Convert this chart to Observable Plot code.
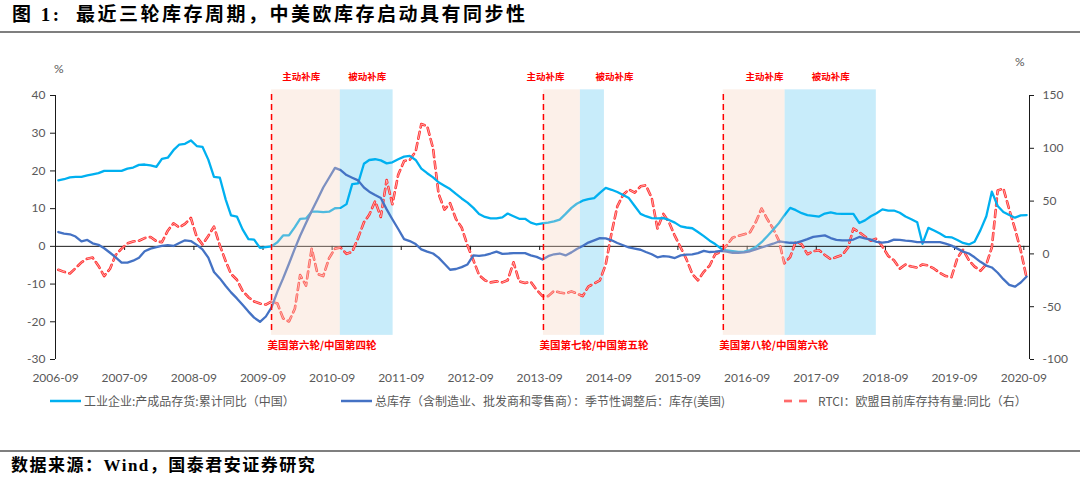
<!DOCTYPE html>
<html>
<head>
<meta charset="utf-8">
<script src="https://cdn.jsdelivr.net/npm/d3@7"></script>
<script src="https://cdn.jsdelivr.net/npm/@observablehq/plot@0.6"></script>
<style>
  body { margin: 0; background: #fff; }
  #wrap { position: relative; width: 1080px; height: 488px; overflow: hidden; background: #fff; font-family: "Noto Sans CJK SC", sans-serif; }
  .title { position: absolute; left: 12px; top: 3px; font-family: "Liberation Serif", "Noto Sans CJK SC", serif; font-weight: bold; font-size: 19px; line-height: 24px; letter-spacing: 2.5px; color: #000; white-space: nowrap; }
  .hr { position: absolute; left: 0; width: 1080px; background: #7f7f7f; }
  .source { position: absolute; left: 11px; top: 455px; font-family: "Liberation Serif", "Noto Sans CJK SC", serif; font-weight: bold; font-size: 17px; line-height: 22px; letter-spacing: 1.5px; color: #000; white-space: nowrap; }
  #chart { position: absolute; left: 0; top: 40px; }
  .pct { position: absolute; font-family: Lato, sans-serif; font-size: 12px; color: #595959; }
  .leg { position: absolute; top: 392px; height: 18px; line-height: 18px; font-size: 12px; color: #595959; white-space: nowrap; }
  .sw { position: absolute; top: 392px; }
</style>
</head>
<body>
<div id="wrap">
  <div class="title">图 1:&nbsp; 最近三轮库存周期，中美欧库存启动具有同步性</div>
  <div class="hr" style="top:31px;height:2px;"></div>
  <div id="chart"></div>
  <div class="pct" style="left:54px;top:61px;">%</div>
  <div class="pct" style="left:1015px;top:54px;">%</div>
  <div id="legend"></div>
  <div class="hr" style="top:450px;height:1.5px;"></div>
  <div class="source">数据来源：Wind，国泰君安证券研究</div>
</div>
<script>
// ---------- data (monthly, 2006-09 .. 2020-09) ----------
const firstMonth = "2006-09";

// 工业企业:产成品存货:累计同比（中国） — left axis, %
const china = [
  17.5, 17.8, 18.3, 18.4, 18.4, 18.8, 19.1, 19.4, 20.0, 20.0,
  20.0, 20.0, 20.6, 20.9, 21.6, 21.7, 21.5, 21.1, 23.2, 23.5,
  25.5, 27.0, 27.2, 28.1, 26.6, 26.4, 23.0, 18.4, 18.2, 12.4,
  8.2, 7.9, 4.5, 1.9, 1.8, -0.4, -0.2, 0.0, 1.1, 2.9,
  2.9, 5.1, 7.3, 7.4, 9.2, 9.2, 9.1, 9.2, 10.1, 10.2,
  11.2, 16.5, 16.7, 21.9, 22.9, 23.1, 22.8, 22.0, 22.3, 23.1,
  23.8, 24.0, 22.9, 20.6, 19.4, 18.3, 17.0, 16.1, 15.2, 13.9,
  12.7, 11.6, 10.2, 8.6, 7.8, 7.4, 7.4, 7.7, 8.7, 8.0,
  7.3, 7.3, 6.3, 5.8, 6.1, 6.3, 6.6, 7.1, 8.6, 10.2,
  11.3, 12.1, 12.5, 12.8, 14.2, 15.5, 15.0, 14.4, 13.6, 12.8,
  10.7, 8.6, 8.0, 7.5, 7.4, 7.5, 7.0, 6.3, 5.3, 5.0,
  4.8, 3.8, 2.7, 1.5, 0.6, -0.6, -1.1, -1.3, -1.5, -1.4,
  -1.0, -0.2, 1.1, 2.7, 4.4, 6.2, 8.2, 10.2, 9.6, 8.8,
  8.3, 8.1, 7.9, 8.7, 9.0, 8.7, 8.6, 8.6, 8.6, 6.2,
  6.9, 8.0, 8.8, 9.8, 9.5, 9.5, 8.9, 7.9, 7.2, 6.4,
  0.7, 4.9, 4.2, 3.4, 2.5, 2.4, 1.7, 0.9, 0.5, 1.2,
  4.3, 8.0, 14.5, 10.7, 9.1, 8.3, 7.6, 8.2, 8.3
];

// 总库存（含制造业、批发商和零售商）：季节性调整后：库存(美国) — left axis, %
const usa = [
  3.8, 3.4, 3.2, 2.6, 1.3, 1.7, 0.8, 0.4, -0.5, -1.7,
  -2.9, -4.3, -4.3, -3.8, -3.0, -1.3, -0.6, -0.2, 0.1, 0.3,
  0.1, 0.9, 1.6, 1.4, 0.4, -0.8, -3.0, -6.8, -8.5, -10.5,
  -12.2, -13.8, -15.5, -17.3, -18.9, -20.0, -18.6, -16.2, -12.0, -8.5,
  -4.6, -0.6, 2.8, 6.2, 9.4, 12.5, 15.6, 18.2, 20.8, 20.2,
  18.9, 18.2, 17.5, 15.6, 14.5, 13.6, 12.8, 9.8, 7.2, 4.6,
  1.9, 1.4, 0.6, -0.8, -1.4, -1.9, -3.0, -4.6, -6.2, -6.0,
  -5.5, -4.8, -2.4, -2.5, -2.3, -1.9, -1.4, -2.0, -1.9, -1.8,
  -1.8, -1.8, -2.4, -2.8, -3.5, -2.6, -2.1, -1.9, -2.4, -1.6,
  -0.7, 0.1, 1.0, 1.6, 2.2, 2.1, 1.6, 0.9, 0.3, -0.3,
  -0.6, -0.9, -1.5, -2.1, -2.9, -2.6, -2.7, -3.1, -2.4, -2.2,
  -2.1, -1.8, -1.2, -1.5, -1.4, -1.2, -1.4, -1.7, -1.7, -1.6,
  -1.3, -0.8, -0.3, 0.2, 0.7, 1.3, 1.1, 0.95, 0.9, 1.4,
  1.9, 2.5, 2.7, 2.9, 2.2, 1.7, 1.6, 1.6, 1.8, 2.5,
  2.1, 1.8, 1.2, 1.0, 1.2, 1.8, 1.7, 1.5, 1.4, 1.1,
  1.1, 1.1, 1.1, 1.1, 0.7, 0.2, -0.6, -1.4, -1.9, -2.9,
  -4.1, -5.1, -5.6, -7.0, -8.7, -10.2, -10.7, -9.6, -8.0
];

// RTCI：欧盟目前库存持有量:同比（右） — right axis, %
const eu = [
  -15, -17, -18.5, -13.5, -8, -4.5, -3.5, -11.4, -21, -14,
  -1, 5, 10, 11.8, 12.5, 15, 16, 12, 11, 22,
  29, 25, 28.5, 34, 16, 9, 17, 25.9, 8, -7,
  -19, -24.5, -35, -41, -45, -47, -48, -45, -47, -61,
  -64, -52, -20, -30, 5, -19, -21, -4, 5, 6,
  0, 2, 15, 30, 37, 50, 35, 70, 47, 75,
  88, 89, 97, 123, 121, 100, 57, 42, 48, 33,
  25, 8, -6, -20, -25, -27, -26, -27, -25, -8,
  -26, -27.5, -26.5, -34, -40, -40, -35, -36.5, -37.5, -35.5,
  -37.5, -40, -31, -28, -25, -10, 20, 45, 56, 61,
  58, 64, 65, 53, 24, 38, 30, 17, 6, -5,
  -19, -25, -17, -11, -0.3, 2, 8, 15.4, 17, 18.5,
  20.5, 30, 43, 33, 24, 12.3, -9, -3, 12, 9,
  -0.3, 2.5, 3.5, -1, -5, -3, -1, 6, 24, 20.5,
  16.5, 12.5, 14.5, 7, -2, -6, -14, -10, -12, -13,
  -10, -11, -14, -18, -21, -22, -4, 4, -6, -12,
  -16, -10, 6, 60, 62, 42, 24, 3, -23
];

// axes
const xTickLabels = ["2006-09","2007-09","2008-09","2009-09","2010-09","2011-09","2012-09",
  "2013-09","2014-09","2015-09","2016-09","2017-09","2018-09","2019-09","2020-09"];
const leftTicks = [-30, -20, -10, 0, 10, 20, 30, 40];
const rightTicks = [-100, -50, 0, 50, 100, 150];
const xStart = "2006-09-01", xEnd = "2020-10-01";

// inventory cycle annotations
const roundLabels = ["美国第六轮/中国第四轮", "美国第七轮/中国第五轮", "美国第八轮/中国第六轮"];
const activeStart = ["2009-10-16", "2013-09-21", "2016-04-28"];
const passiveStart = ["2010-10-14", "2014-04-04", "2017-03-20"];
const passiveEnd = ["2011-07-20", "2014-08-09", "2018-07-15"];
const activeLabelAt = ["2010-03-22", "2013-10-02", "2016-12-02"];
const passiveLabelAt = ["2011-03-05", "2014-10-01", "2017-11-16"];
const phaseLabels = ["主动补库", "被动补库"];

// legend
const legendNames = [
  "工业企业:产成品存货:累计同比（中国）",
  "总库存（含制造业、批发商和零售商）：季节性调整后：库存(美国)",
  "RTCI：欧盟目前库存持有量:同比（右）"
];

// ---------- build ----------
const D = s => new Date(s + "T00:00:00Z");
const [fy, fm] = firstMonth.split("-").map(Number);
const dates = china.map((_, i) => new Date(Date.UTC(fy, fm - 1 + i, 16)));
const rows = arr => arr.map((v, i) => ({date: dates[i], v}));
const toLeft = r => -30 + (r + 100) * 70 / 250;
const fromLeft = l => (l + 30) * 250 / 70 - 100;
const xTicks = xTickLabels.map(s => D(s + "-01"));
const regions = roundLabels.map((label, i) => ({
  label, a: D(activeStart[i]), p: D(passiveStart[i]), e: D(passiveEnd[i]),
  al: D(activeLabelAt[i]), pl: D(passiveLabelAt[i])
}));

const red = "#FF0000";
const euRed = "#FF3030";
const euInner = "#FFC4C4";
const chart = Plot.plot({
  width: 1080, height: 350,
  marginTop: 55, marginBottom: 31, marginLeft: 55, marginRight: 51,
  x: {type: "utc", domain: [D(xStart), D(xEnd)]},
  y: {domain: [-30, 40]},
  style: {fontFamily: "Lato, 'Noto Sans CJK SC', sans-serif", fontSize: "12px", background: "transparent", overflow: "visible"},
  marks: [
    Plot.rect(regions, {x1: "p", x2: "e", y1: -23.6, y2: 41.5, fill: "#C8ECFA"}),
    Plot.ruleY([0], {stroke: "#1a1a1a", strokeWidth: 1}),
    Plot.ruleX(xTicks, {x: d => d, y1: 0, y2: -1.1, stroke: "#1a1a1a"}),
    Plot.line(rows(eu), {x: "date", y: d => toLeft(d.v), stroke: euRed, strokeWidth: 2.6, strokeDasharray: "7,4.5"}),
    Plot.line(rows(eu), {x: "date", y: d => toLeft(d.v), stroke: euInner, strokeWidth: 0.8, strokeDasharray: "7,4.5"}),
    Plot.line(rows(china), {x: "date", y: "v", stroke: "#00B0F0", strokeWidth: 2.3}),
    Plot.line(rows(usa), {x: "date", y: "v", stroke: "#4472C4", strokeWidth: 2.3}),
    Plot.rect(regions, {x1: "a", x2: "p", y1: -23.6, y2: 41.5, fill: "#F5D0BA", fillOpacity: 0.32}),
    Plot.ruleX(regions, {x: "a", y1: -22.3, y2: 41.2, stroke: red, strokeWidth: 1.5, strokeDasharray: "6,4"}),
    Plot.ruleX([D(xStart)], {stroke: "#1a1a1a"}),
    Plot.ruleX([D(xEnd)], {stroke: "#1a1a1a"}),
    Plot.axisY(leftTicks, {anchor: "left", tickSize: 5, tickPadding: 5, tickFormat: d => String(d), label: null, stroke: "#1a1a1a", fill: "#595959"}),
    Plot.axisY(rightTicks.map(toLeft), {anchor: "right", tickSize: 4, tickPadding: 9, tickFormat: d => String(Math.round(fromLeft(d))), label: null, stroke: "#1a1a1a", fill: "#595959"}),
    Plot.axisX(xTicks, {anchor: "bottom", tickSize: 0, tickPadding: 14, tickFormat: d3.utcFormat("%Y-%m"), label: null, fill: "#595959"}),
    Plot.text(regions, {x: "al", y: 44.8, text: () => phaseLabels[0], fill: red, fontSize: 9.5, fontWeight: "bold", fontFamily: "Noto Sans CJK SC"}),
    Plot.text(regions, {x: "pl", y: 44.8, text: () => phaseLabels[1], fill: red, fontSize: 9.5, fontWeight: "bold", fontFamily: "Noto Sans CJK SC"}),
    Plot.text(regions, {x: "a", y: -26.4, text: "label", textAnchor: "start", dx: -4, fill: red, fontSize: 10.5, fontWeight: "bold", fontFamily: "Noto Sans CJK SC"})
  ]
});
document.getElementById("chart").appendChild(chart);

// legend (HTML)
const leg = document.getElementById("legend");
const items = [
  {x: 50, tx: 84, color: "#00B0F0", dash: null},
  {x: 341, tx: 375, color: "#4472C4", dash: null},
  {x: 784, tx: 818, color: euRed, dash: "8,7"}
];
items.forEach((it, i) => {
  const sw = document.createElementNS("http://www.w3.org/2000/svg", "svg");
  sw.setAttribute("width", 31); sw.setAttribute("height", 18);
  sw.setAttribute("class", "sw"); sw.style.left = it.x + "px";
  const mk = (color, w) => {
    const ln = document.createElementNS("http://www.w3.org/2000/svg", "line");
    ln.setAttribute("x1", 0); ln.setAttribute("x2", i === 2 ? 23 : 31);
    ln.setAttribute("y1", 9); ln.setAttribute("y2", 9);
    ln.setAttribute("stroke", color); ln.setAttribute("stroke-width", w);
    if (it.dash) ln.setAttribute("stroke-dasharray", it.dash);
    sw.appendChild(ln);
  };
  mk(it.color, 2.5);
  if (i === 2) mk(euInner, 0.8);
  leg.appendChild(sw);
  const t = document.createElement("div");
  t.className = "leg"; t.style.left = it.tx + "px"; t.textContent = legendNames[i];
  leg.appendChild(t);
});
</script>
</body>
</html>
